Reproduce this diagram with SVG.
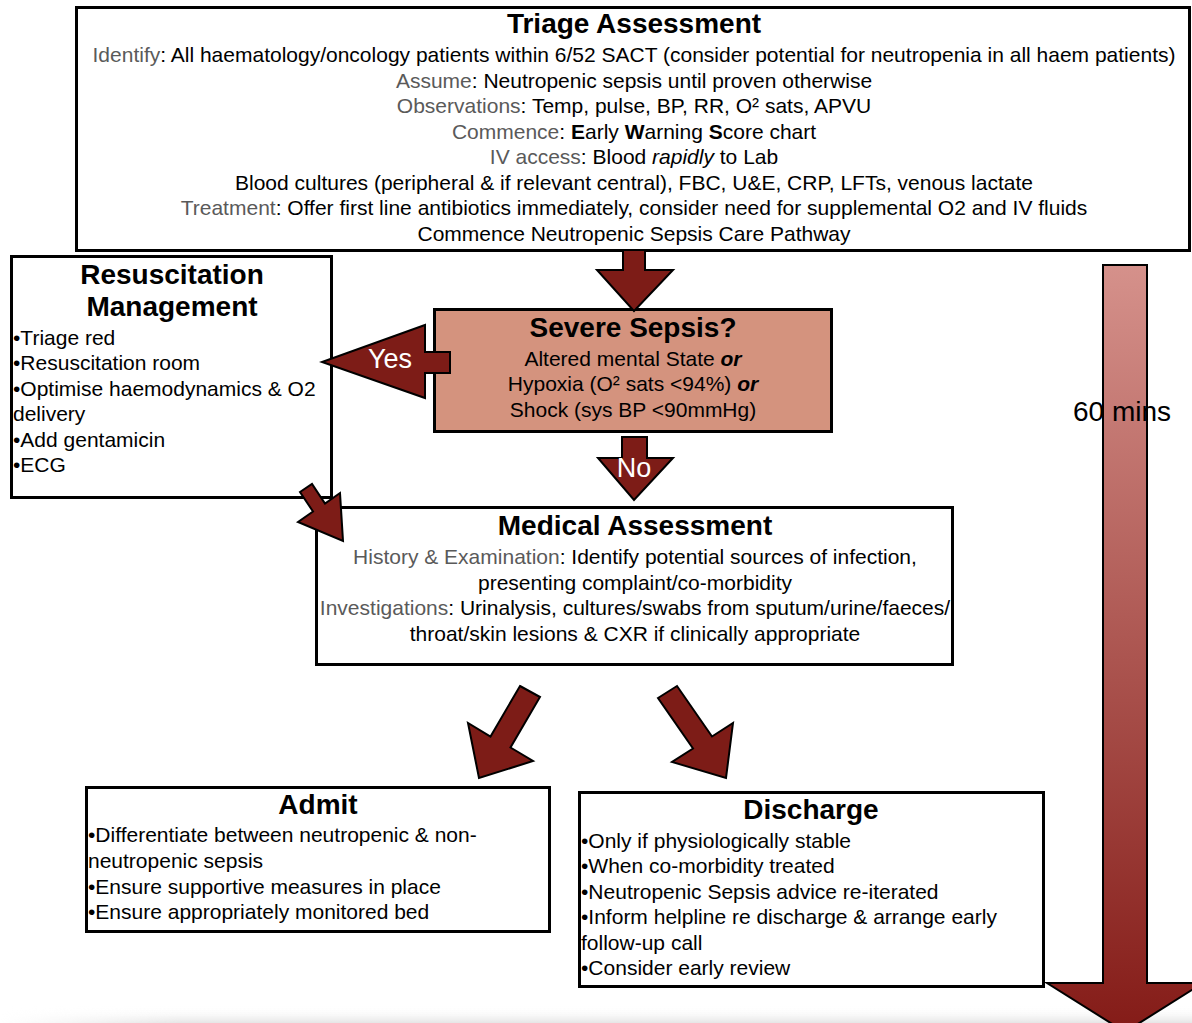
<svg xmlns="http://www.w3.org/2000/svg" width="1192" height="1023" viewBox="0 0 1192 1023">
<style>
.box{fill:#ffffff;stroke:#000;stroke-width:3}
.sev{fill:#D4937E;stroke:#000;stroke-width:3}
.arr{fill:#7D1C17;stroke:#000;stroke-width:2;stroke-linejoin:miter}
text{font-family:"Liberation Sans",Arial,Helvetica,sans-serif;fill:#000}
.t{font-size:28px;font-weight:bold;text-anchor:middle}
.c{font-size:21px;text-anchor:middle}
.l{font-size:21px}
.g{fill:#5a5a5a}
.w{fill:#fff;font-size:27px;text-anchor:middle}
</style>
<defs>
<linearGradient id="tg" x1="0" y1="0" x2="0" y2="1">
<stop offset="0" stop-color="#D5918B"/>
<stop offset="1" stop-color="#841B17"/>
</linearGradient>
<linearGradient id="sh" x1="0" y1="0" x2="0" y2="1">
<stop offset="0" stop-color="#ffffff" stop-opacity="0"/>
<stop offset="1" stop-color="#e6e6e6"/>
</linearGradient>
<linearGradient id="hm" x1="0" y1="0" x2="1" y2="0">
<stop offset="0" stop-color="#fff" stop-opacity="0"/>
<stop offset="0.15" stop-color="#fff" stop-opacity="1"/>
<stop offset="1" stop-color="#fff" stop-opacity="1"/>
</linearGradient>
<mask id="fade"><rect x="0" y="1000" width="1192" height="23" fill="url(#hm)"/></mask>
</defs>
<rect x="0" y="0" width="1192" height="1023" fill="#fff"/>
<rect x="0" y="1006" width="1192" height="17" fill="url(#sh)" mask="url(#fade)"/>

<g id="triage">
<rect class="box" x="76.5" y="7.5" width="1113" height="243"/>
<text class="t" x="634" y="33">Triage Assessment</text>
<text class="c" x="634" y="62"><tspan class="g">Identify</tspan>: All haematology/oncology patients within 6/52 SACT (consider potential for neutropenia in all haem patients)</text>
<text class="c" x="634" y="88"><tspan class="g">Assume</tspan>: Neutropenic sepsis until proven otherwise</text>
<text class="c" x="634" y="113"><tspan class="g">Observations</tspan>: Temp, pulse, BP, RR, O² sats, APVU</text>
<text class="c" x="634" y="139"><tspan class="g">Commence</tspan>: <tspan font-weight="bold">E</tspan>arly <tspan font-weight="bold">W</tspan>arning <tspan font-weight="bold">S</tspan>core chart</text>
<text class="c" x="634" y="164"><tspan class="g">IV access</tspan>: Blood <tspan font-style="italic">rapidly</tspan> to Lab</text>
<text class="c" x="634" y="190">Blood cultures (peripheral &amp; if relevant central), FBC, U&amp;E, CRP, LFTs, venous lactate</text>
<text class="c" x="634" y="215"><tspan class="g">Treatment</tspan>: Offer first line antibiotics immediately, consider need for supplemental O2 and IV fluids</text>
<text class="c" x="634" y="241">Commence Neutropenic Sepsis Care Pathway</text>
</g>

<g id="resuscitation">
<rect class="box" x="11.5" y="256.5" width="320" height="241"/>
<text class="t" x="172" y="284">Resuscitation</text>
<text class="t" x="172" y="316">Management</text>
<text class="l" x="13" y="345">•Triage red</text>
<text class="l" x="13" y="370">•Resuscitation room</text>
<text class="l" x="13" y="396">•Optimise haemodynamics &amp; O2</text>
<text class="l" x="13" y="421">delivery</text>
<text class="l" x="13" y="447">•Add gentamicin</text>
<text class="l" x="13" y="472">•ECG</text>
</g>

<g id="severe">
<rect class="sev" x="434.5" y="309.5" width="397" height="122"/>
<text class="t" x="633" y="337">Severe Sepsis?</text>
<text class="c" x="633" y="366">Altered mental State <tspan font-weight="bold" font-style="italic">or</tspan></text>
<text class="c" x="633" y="391">Hypoxia (O² sats &lt;94%) <tspan font-weight="bold" font-style="italic">or</tspan></text>
<text class="c" x="633" y="417">Shock (sys BP &lt;90mmHg)</text>
</g>

<g id="medical">
<rect class="box" x="316.5" y="507.5" width="636" height="157"/>
<text class="t" x="635" y="535">Medical Assessment</text>
<text class="c" x="635" y="564"><tspan class="g">History &amp; Examination</tspan>: Identify potential sources of infection,</text>
<text class="c" x="635" y="590">presenting complaint/co-morbidity</text>
<text class="c" x="635" y="615"><tspan class="g">Investigations</tspan>: Urinalysis, cultures/swabs from sputum/urine/faeces/</text>
<text class="c" x="635" y="641">throat/skin lesions &amp; CXR if clinically appropriate</text>
</g>

<g id="admit">
<rect class="box" x="86.5" y="787.5" width="463" height="144"/>
<text class="t" x="318" y="814">Admit</text>
<text class="l" x="88" y="842">•Differentiate between neutropenic &amp; non-</text>
<text class="l" x="88" y="868">neutropenic sepsis</text>
<text class="l" x="88" y="894">•Ensure supportive measures in place</text>
<text class="l" x="88" y="919">•Ensure appropriately monitored bed</text>
</g>

<g id="discharge">
<rect class="box" x="579.5" y="792.5" width="464" height="194"/>
<text class="t" x="811" y="819">Discharge</text>
<text class="l" x="581" y="848">•Only if physiologically stable</text>
<text class="l" x="581" y="873">•When co-morbidity treated</text>
<text class="l" x="581" y="899">•Neutropenic Sepsis advice re-iterated</text>
<text class="l" x="581" y="924">•Inform helpline re discharge &amp; arrange early</text>
<text class="l" x="581" y="950">follow-up call</text>
<text class="l" x="581" y="975">•Consider early review</text>
</g>

<g id="connectors">
<polygon class="arr" points="623,250 645,250 645,270 673,270 634,311 597,270 623,270"/>
<polygon class="arr" points="450,352 425,352 425,325 322,362 425,398 425,373 450,373"/>
<text class="w" x="390" y="368" font-size="26">Yes</text>
<polygon class="arr" points="622,437 647,437 647,458 673,458 634,500 598,458 622,458"/>
<text class="w" x="634" y="477">No</text>
<polygon class="arr" points="300,492 312,484 325,503.5 340,493 343,541 298,522 313,511.5"/>
<polygon class="arr" points="520,686 540,697 510.5,747.5 533,761 479,778 468,723 490.5,736.5"/>
<polygon class="arr" points="658,698 677,686 712,736.5 733,723 726,778 672,762 693,748.5"/>
<polygon points="1103,265 1147,265 1147,983 1203,983 1125,1032 1047,983 1103,983" fill="url(#tg)" stroke="#000" stroke-width="2"/>
<text x="1073" y="421" font-size="28">60 mins</text>
</g>
</svg>
